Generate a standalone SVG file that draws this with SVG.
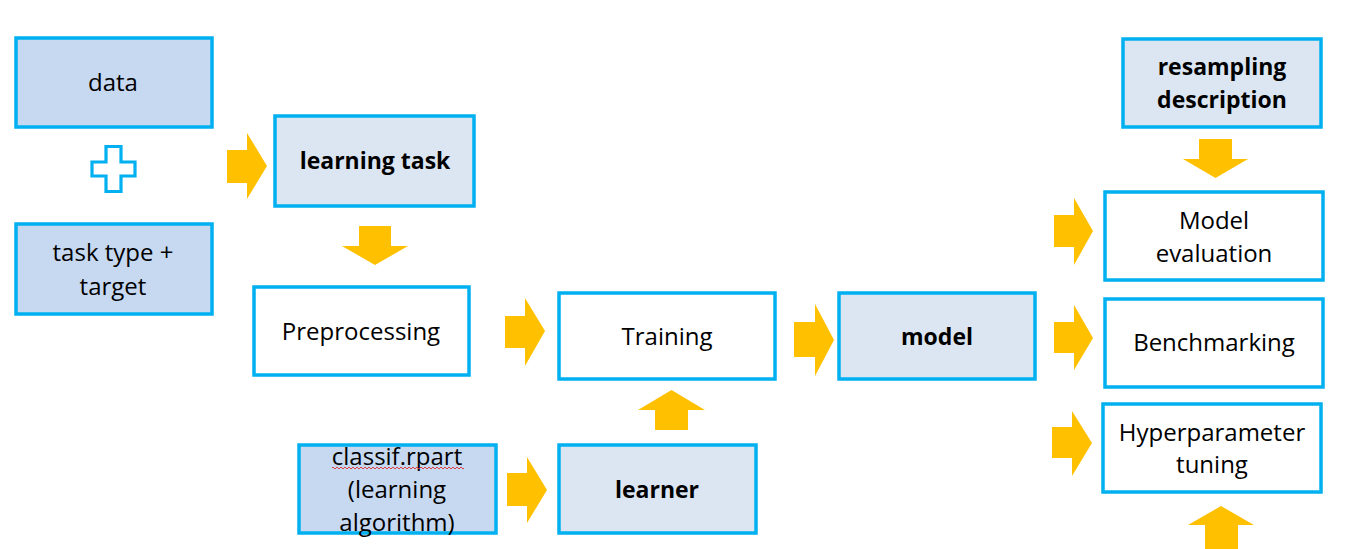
<svg xmlns="http://www.w3.org/2000/svg" width="1348" height="549" viewBox="0 0 1348 549">
<style>
.box{stroke:#00B0F0;stroke-width:3.5;}
.dark{fill:#C6D9F1;}
.light{fill:#DCE6F2;}
.white{fill:#FFFFFF;}
.arrow{fill:#FFC000;stroke:none;}
text{font-family:"Open Sans","Noto Sans","Liberation Sans",sans-serif;font-size:24px;fill:#000;text-anchor:middle;}
.b{font-weight:bold;font-size:23px;}
</style>
<rect width="1348" height="549" fill="#FFFFFF"/>
<g id="connectors">
<polygon class="arrow" points="227,150 247,150 247,133 267,166 247,199 247,183 227,183"/>
<polygon class="arrow" points="505,316 525,316 525,298 545,331 525,366 525,348 505,348"/>
<polygon class="arrow" points="794,322 815,322 815,304 834,340 815,376 815,357 794,357"/>
<polygon class="arrow" points="507,473 527,473 527,457 547,490 527,523 527,506 507,506"/>
<polygon class="arrow" points="1054,215 1074,215 1074,198 1093,231 1074,265 1074,247 1054,247"/>
<polygon class="arrow" points="1054,322 1074,322 1074,305 1093,338 1074,370 1074,353 1054,353"/>
<polygon class="arrow" points="1052,427 1072,427 1072,411 1092,443 1072,476 1072,458 1052,458"/>
<polygon class="arrow" points="359,226 391,226 391,246 408,246 375,265 342,246 359,246"/>
<polygon class="arrow" points="1199,139 1232,139 1232,159 1248,159 1215.5,178 1183,159 1199,159"/>
<polygon class="arrow" points="655,430 688,430 688,410 705,410 671.5,390 638,410 655,410"/>
<polygon class="arrow" points="1205,549 1238,549 1238,525 1254,525 1221,506 1188,525 1205,525"/>
</g>
<g id="plus">
<polygon points="106,146.5 121,146.5 121,162 135,162 135,176 121,176 121,191.5 106,191.5 106,176 92,176 92,162 106,162" fill="#FFFFFF" stroke="#00B0F0" stroke-width="3.2"/>
</g>
<g id="data">
<rect class="box dark" x="16" y="38" width="196" height="89"/>
<text x="113" y="91">data</text>
</g>
<g id="tasktype">
<rect class="box dark" x="16" y="224" width="196" height="90"/>
<text x="113" y="261">task type +</text>
<text x="113" y="295">target</text>
</g>
<g id="learningtask">
<rect class="box light" x="275" y="116" width="199" height="90"/>
<text class="b" x="375" y="169">learning task</text>
</g>
<g id="preprocessing">
<rect class="box white" x="254" y="287" width="215" height="88"/>
<text x="361" y="340">Preprocessing</text>
</g>
<g id="training">
<rect class="box white" x="559" y="293" width="216" height="86"/>
<text x="667" y="345">Training</text>
</g>
<g id="model">
<rect class="box light" x="839" y="293" width="196" height="86"/>
<text class="b" x="937" y="345">model</text>
</g>
<g id="classif">
<rect class="box dark" x="299" y="445" width="197" height="88"/>
<text x="397" y="465">classif.rpart</text>
<path d="M332,468 q1,-2 2,0 t2,0 t2,0 t2,0 t2,0 t2,0 t2,0 t2,0 t2,0 t2,0 t2,0 t2,0 t2,0 t2,0 t2,0 t2,0 t2,0 t2,0 t2,0 t2,0 t2,0 t2,0 t2,0 t2,0 t2,0 t2,0 t2,0 t2,0 t2,0 t2,0 t2,0 t2,0 t2,0 t2,0 t2,0 t2,0 t2,0 t2,0 t2,0 t2,0 t2,0 t2,0 t2,0 t2,0 t2,0 t2,0 t2,0 t2,0 t2,0 t2,0 t2,0 t2,0 t2,0 t2,0 t2,0 t2,0 t2,0 t2,0 t2,0 t2,0 t2,0 t2,0 t2,0 t2,0 t2,0 t2,0" fill="none" stroke="#E03030" stroke-width="0.9"/>
<text x="397" y="498">(learning</text>
<text x="397" y="531">algorithm)</text>
</g>
<g id="learner">
<rect class="box light" x="559" y="445" width="197" height="88"/>
<text class="b" x="657" y="498">learner</text>
</g>
<g id="resampling">
<rect class="box light" x="1123" y="39" width="198" height="88"/>
<text class="b" x="1222" y="75">resampling</text>
<text class="b" x="1222" y="108">description</text>
</g>
<g id="modeleval">
<rect class="box white" x="1105" y="192" width="218" height="88"/>
<text x="1214" y="229">Model</text>
<text x="1214" y="262">evaluation</text>
</g>
<g id="benchmarking">
<rect class="box white" x="1105" y="299" width="218" height="88"/>
<text x="1214" y="351">Benchmarking</text>
</g>
<g id="tuning">
<rect class="box white" x="1103" y="404" width="218" height="88"/>
<text x="1212" y="441">Hyperparameter</text>
<text x="1212" y="473">tuning</text>
</g>
</svg>
